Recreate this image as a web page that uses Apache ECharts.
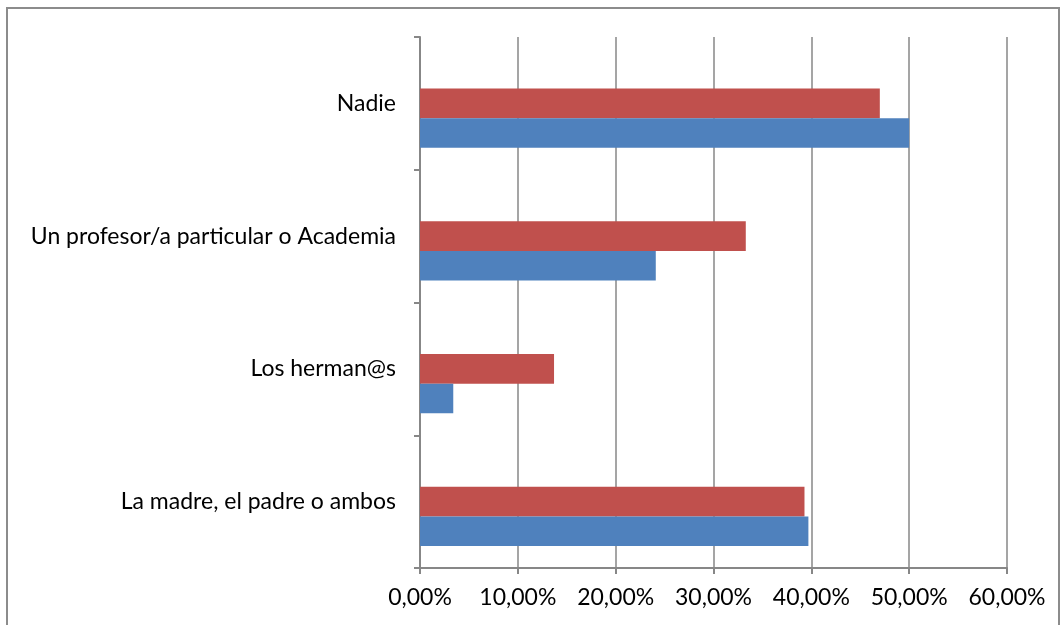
<!DOCTYPE html>
<html>
<head>
<meta charset="utf-8">
<script src="https://cdn.jsdelivr.net/npm/echarts@6/dist/echarts.min.js"></script>
<style>
  html, body { margin: 0; padding: 0; background: #fff; }
  #chart { width: 1064px; height: 625px; }
  .frame { position: absolute; left: 6px; top: 7px; width: 1050px; height: 640px; border: 2px solid #8c8c8c; pointer-events: none; }
</style>
</head>
<body>
<div id="chart"></div>
<div class="frame"></div>
<script>
// categorías (de abajo a arriba)
const categories = ['La madre, el padre o ambos', 'Los herman@s', 'Un profesor/a particular o Academia', 'Nadie']
// valores de cada serie (fracción)
const blueValues = [0.397, 0.034, 0.241, 0.50]
const redValues = [0.393, 0.137, 0.333, 0.470]
// serie vacía (reserva el hueco superior como en el original)
const emptyValues = []
const xTicks = [0, 0.1, 0.2, 0.3, 0.4, 0.5, 0.6]

const grey = '#878787'
const font = 'Lato'
const myChart = echarts.init(document.getElementById('chart'))
const option = {
  animation: false,
  grid: { left: 420, right: 57, top: 37, bottom: 57 },
  xAxis: {
    type: 'value',
    min: xTicks[0],
    max: xTicks[xTicks.length - 1],
    interval: 0.1,
    axisLine: { show: true, lineStyle: { color: grey, width: 2 } },
    axisTick: { show: true, length: 6, lineStyle: { color: grey, width: 2 } },
    splitLine: { show: true, lineStyle: { color: grey, width: 1.5 } },
    axisLabel: {
      color: '#000',
      fontFamily: font,
      fontSize: 23,
      margin: 18,
      formatter: v => (v * 100).toFixed(2).replace('.', ',') + '%'
    }
  },
  yAxis: {
    type: 'category',
    data: categories,
    axisLine: { show: true, lineStyle: { color: grey, width: 2 } },
    axisTick: { show: true, length: 6, lineStyle: { color: grey, width: 2 } },
    axisLabel: {
      color: '#000',
      fontFamily: font,
      fontSize: 23,
      margin: 24
    }
  },
  series: [
    {
      name: 'vacío',
      type: 'bar',
      data: emptyValues,
      barGap: '0%',
      barCategoryGap: '33%'
    },
    {
      name: 'rojo',
      type: 'bar',
      data: redValues,
      barGap: '0%',
      barCategoryGap: '33%',
      itemStyle: { color: '#C0504D' }
    },
    {
      name: 'azul',
      type: 'bar',
      data: blueValues,
      barGap: '0%',
      barCategoryGap: '33%',
      itemStyle: { color: '#4F81BD' }
    }
  ]
}
myChart.setOption(option)
</script>
</body>
</html>
